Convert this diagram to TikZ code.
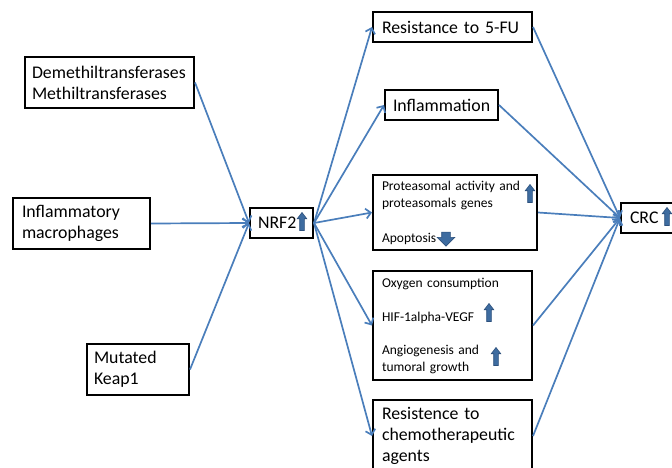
\documentclass[tikz,border=0pt]{standalone}
\usepackage{fontspec}
\setmainfont{Carlito}
\usetikzlibrary{arrows.meta,shapes.arrows}

\definecolor{linkblue}{RGB}{74,126,187}
\definecolor{markfill}{RGB}{62,108,160}
\definecolor{markline}{RGB}{44,80,124}

\newcommand{\bigtxt}{\fontsize{17.8}{21}\selectfont}
\newcommand{\smalltxt}{\fontsize{13.5}{17}\selectfont}

\begin{document}
\begin{tikzpicture}[
    x=1pt, y=-1pt,
    box/.style={draw, line width=2pt, align=left, inner ysep=0pt, font=\bigtxt},
    smallbox/.style={box, font=\smalltxt},
    link/.style={draw=linkblue, line width=1.7pt, -{Straight Barb[length=5pt,width=10pt]}},
    blockmark/.style={single arrow, fill=markfill, draw=markline, line width=0.6pt, inner xsep=0pt},
    upmark/.style={blockmark, rotate=90, inner ysep=2pt, minimum height=18pt,
        single arrow head extend=2.5pt, single arrow tip angle=75},
    downmark/.style={blockmark, rotate=-90, inner ysep=4pt, minimum height=14pt,
        single arrow head extend=4.5pt, single arrow tip angle=90},
]
    \useasboundingbox (0,0) rectangle (672,468);

    % Causes
    \node[box, inner xsep=7pt, text width=155pt, minimum height=51pt] (dem) at (109.5,82.5)
        {Demethiltransferases\\Methiltransferases};
    \node[box, inner xsep=9pt, text width=119pt, minimum height=51pt] (mac) at (81.5,223.5)
        {Inflammatory\\macrophages};
    \node[box, inner xsep=7pt, text width=88pt, minimum height=51pt] (keap) at (138,369.5)
        {Mutated\\Keap1};

    % NRF2
    \node[box, inner xsep=8pt, text width=47pt, minimum height=30pt] (nrf) at (281.5,223) {NRF2};
    \node[upmark] (nrfup) at (302,223) {};

    % Effects
    \node[box, inner xsep=9pt, text width=141pt, minimum height=30pt] (fu) at (452.5,27)
        {Resistance to 5-FU};
    \node[box, inner xsep=8pt, text width=97pt, minimum height=30pt] (infl) at (441.5,105)
        {Inflammation};
    \node[smallbox, inner xsep=9pt, text width=146pt, minimum height=75pt] (prot) at (455,212.5)
        {Proteasomal activity and\\proteasomals genes\\[18pt]Apoptosis};
    \node[smallbox, inner xsep=9pt, text width=141pt, minimum height=109pt] (oxy) at (452.5,325.5)
        {Oxygen consumption\\[17pt]HIF-1alpha-VEGF\\[16pt]Angiogenesis and\\tumoral growth};
    \node[box, inner xsep=9pt, text width=141pt, minimum height=72pt] (chemo) at (452.5,436)
        {Resistence to\\chemotherapeutic\\agents};

    % Marks inside the boxes
    \node[upmark] (protup) at (530,195) {};
    \node[downmark] (apodown) at (446,237) {};
    \node[upmark] (hifup) at (489,314) {};
    \node[upmark] (angioup) at (496,358) {};

    % CRC
    \node[box, inner xsep=9pt, text width=56pt, minimum height=30pt] (crc) at (658,218) {CRC};
    \node[upmark] (crcup) at (667,218) {};

    % Connections causes -> NRF2
    \foreach \c in {dem,mac,keap}
        \draw[link] (\c.east) -- (nrf.west);

    % Connections NRF2 -> effects -> CRC
    \foreach \e in {fu,infl,prot,oxy,chemo} {
        \draw[link] (nrf.east) -- (\e.west);
        \draw[link] (\e.east) -- (crc.west);
    }
\end{tikzpicture}
\end{document}
